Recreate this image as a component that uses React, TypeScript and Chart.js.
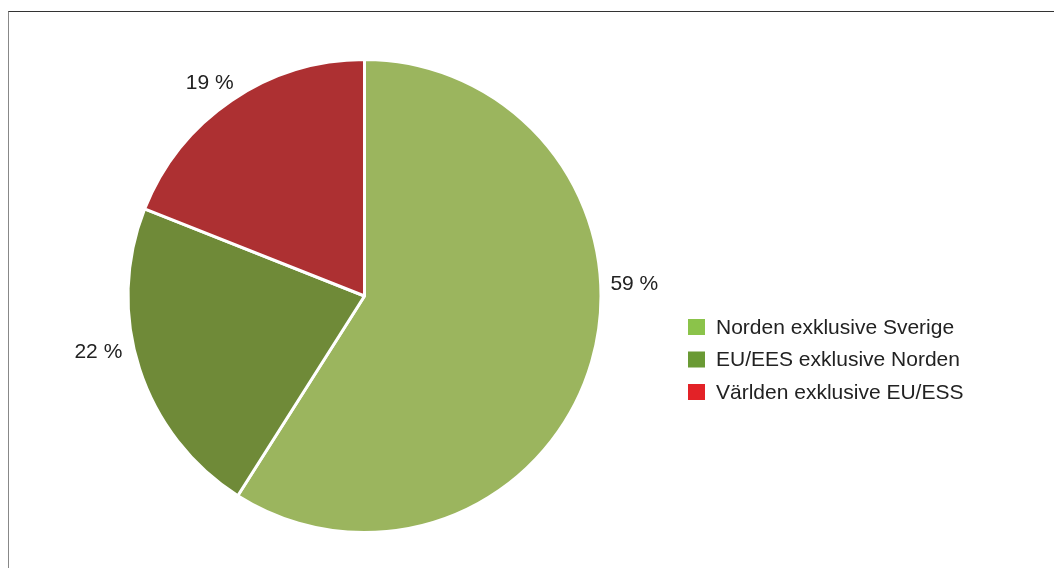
import React, { useEffect, useRef } from "react";
import { Chart, registerables } from "chart.js";

Chart.register(...registerables);

const categories = [
  "Norden exklusive Sverige",
  "EU/EES exklusive Norden",
  "Världen exklusive EU/ESS",
];
const shares = [59, 22, 19];
const valueLabels = ["59 %", "22 %", "19 %"];
const sliceColors = ["#9bb55e", "#6f8a38", "#ad3032"];
const legendColors = ["#8bc34a", "#6a9a34", "#e32227"];

const FONT = '"Liberation Sans", Arial, sans-serif';

const outsideLabels = {
  id: "outsideLabels",
  afterDatasetsDraw(chart: any, _args: any, opts: any) {
    const meta = chart.getDatasetMeta(0);
    const ctx = chart.ctx;
    ctx.save();
    ctx.font = `21px ${FONT}`;
    ctx.fillStyle = "#222";
    ctx.textAlign = "center";
    ctx.textBaseline = "middle";
    meta.data.forEach((arc: any, i: number) => {
      const p = opts.placement[i];
      const a = (p.angle * Math.PI) / 180;
      const r = arc.outerRadius * p.dist;
      const x = arc.x + Math.sin(a) * r;
      const y = arc.y - Math.cos(a) * r;
      ctx.fillText(valueLabels[i], x, y);
    });
    ctx.restore();
  },
};

const sideLegend = {
  id: "sideLegend",
  afterDraw(chart: any, _args: any, opts: any) {
    const ctx = chart.ctx;
    ctx.save();
    ctx.font = `21px ${FONT}`;
    ctx.textBaseline = "middle";
    ctx.textAlign = "left";
    categories.forEach((c, i) => {
      const cy = opts.top + i * opts.rowGap;
      ctx.fillStyle = legendColors[i];
      ctx.fillRect(opts.left, cy - 8, 17, 16);
      ctx.fillStyle = "#222";
      ctx.fillText(c, opts.left + 28, cy + 1);
    });
    ctx.restore();
  },
};

export default function App() {
  const ref = useRef<HTMLCanvasElement | null>(null);

  useEffect(() => {
    if (!ref.current) return;
    const chart = new Chart(ref.current, {
      type: "pie",
      data: {
        labels: categories,
        datasets: [
          {
            data: shares,
            backgroundColor: sliceColors,
            borderColor: "#ffffff",
            borderWidth: 3,
            hoverOffset: 0,
          },
        ],
      },
      options: {
        responsive: false,
        animation: false,
        events: [],
        layout: { padding: { left: 126.5, right: 451.5, top: 58, bottom: 34 } },
        plugins: {
          legend: { display: false },
          tooltip: { enabled: false },
          outsideLabels: {
            placement: [
              { angle: 87.5, dist: 1.142 },
              { angle: 258.1, dist: 1.15 },
              { angle: 324, dist: 1.114 },
            ],
          },
          sideLegend: { left: 688, top: 327, rowGap: 32.5 },
        } as any,
      },
      plugins: [outsideLabels, sideLegend],
    });
    return () => chart.destroy();
  }, []);

  return (
    <div
      style={{
        position: "fixed",
        left: 0,
        top: 0,
        width: 1054,
        height: 568,
        overflow: "hidden",
        background: "#fff",
      }}
    >
      <div
        style={{
          position: "absolute",
          left: 8,
          top: 11,
          width: 1200,
          height: 700,
          borderTop: "1.5px solid #333",
          borderLeft: "1.5px solid #888",
        }}
      />
      <canvas
        ref={ref}
        width={1054}
        height={568}
        style={{ position: "absolute", left: 0, top: 0, width: 1054, height: 568 }}
      />
    </div>
  );
}
